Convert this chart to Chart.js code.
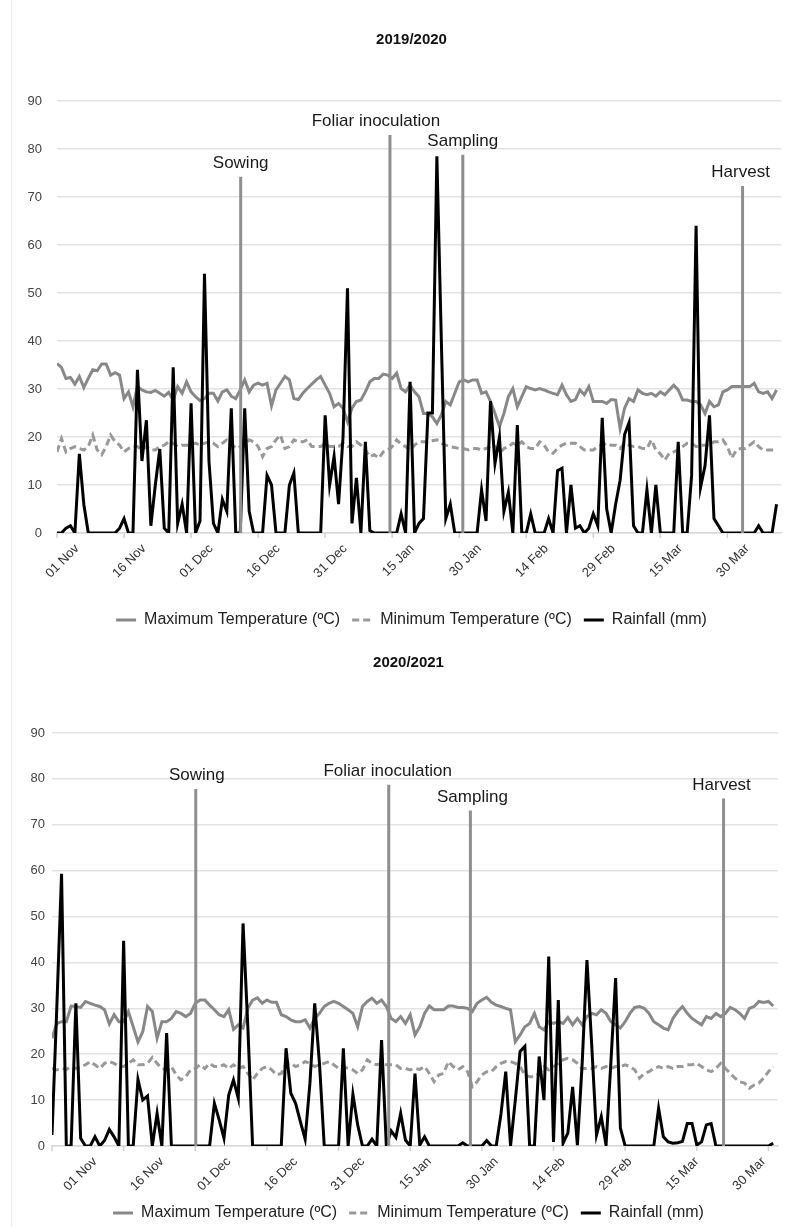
<!DOCTYPE html>
<html>
<head>
<meta charset="utf-8">
<script src="https://cdn.jsdelivr.net/npm/chart.js@4.4.1/dist/chart.umd.min.js"></script>
<style>
  html, body { margin: 0; padding: 0; background: #fff; overflow: hidden; }
  #page { position: relative; width: 786px; height: 1227px; overflow: hidden; }
  #edge { position: absolute; left: 11px; top: 0; width: 1px; height: 1227px; background: #ececec; }
  canvas { position: absolute; left: 0; }
  #season1 { top: 0; }
  #season2 { top: 630px; }
</style>
</head>
<body>
<div id="page">
  <div id="edge"></div>
  <canvas id="season1" width="796" height="640"></canvas>
  <canvas id="season2" width="786" height="602"></canvas>
</div>
<script>
const seriesNames = ["Maximum Temperature (ºC)", "Minimum Temperature (ºC)", "Rainfall (mm)"];
const tickLabels = ["01 Nov", "16 Nov", "01 Dec", "16 Dec", "31 Dec", "15 Jan", "30 Jan", "14 Feb", "29 Feb", "15 Mar", "30 Mar"];
const eventNames = ["Sowing", "Foliar inoculation", "Sampling", "Harvest"];

// 2019/2020 season, one value per day from 01 Nov
const maxTemp1920 = [
  35.3, 34.5, 32.2, 32.4, 31, 32.6, 30.3, 32.2, 34, 33.8, 35.2, 35.2, 32.9, 33.4, 32.9, 28, 29.4, 26.3, 30.5, 29.8,
  29.4, 29.3, 29.7, 29.1, 28.5, 29.3, 27.7, 30.5, 29.1, 31.5, 29.4, 28.4, 27.6, 28, 29.1, 29.1, 27.5, 29.4, 29.8, 28.5,
  28, 29.8, 31.9, 29.4, 30.8, 31.2, 30.8, 31.2, 26.5, 29.8, 31.2, 32.6, 31.9, 28, 27.8, 29.1, 30.1, 31, 31.9, 32.6,
  30.8, 29.1, 26.3, 27, 26, 23.2, 26, 27.4, 27.7, 29.4, 31.5, 32.2, 32.2, 33.1, 32.9, 32.2,
  33.3, 30.1, 29.4, 30.8, 29.4, 28.4, 24.9, 24.9, 24.2, 22.8, 24.6, 27.4, 26.7, 29.1, 31.5, 31.9, 31.5, 31.9, 31.9, 29.1,
  29.4, 27.4, 24.9, 22.2, 24.9, 28.4, 30.1, 26.3, 28.4, 30.5, 30.1, 29.8, 30.1, 29.8, 29.4, 29.1, 28.8, 30.8, 28.8, 27.4,
  27.8, 29.8, 28.8, 30.5, 27.4, 27.4, 27.4, 27, 27.8, 27.7, 21.8, 26, 28, 27.4, 29.8, 29.1, 28.8, 29.1, 28.5, 29.4,
  28.8, 29.8, 30.8, 29.8, 27.7, 27.7, 27.4, 27.4, 26.7, 24.9, 27.4, 26.3, 26.7, 29.4, 29.8, 30.5, 30.5, 30.5, 30.5, 30.5,
  31.2, 29.4, 29.1, 29.4, 28, 29.8
];
const minTemp1920 = [
  16.9, 19.7, 16.9, 17.6, 18, 17.6, 17.3, 18, 20.4, 17.3, 16.3, 18, 20.4, 19, 18.3, 16.9, 17.6, 18, 18, 17.3,
  18, 17.3, 17.3, 18, 18.3, 19, 18.7, 18, 18.3, 18.3, 18.3, 18.7, 18.3, 18.7, 19, 18.7, 18, 18.7, 19.4, 18.7,
  17.6, 18, 18.3, 19.4, 19, 18, 15.9, 17.6, 18, 19.4, 20.4, 17.6, 18, 19.4, 19, 19, 19.4, 18, 18, 18,
  18.7, 18, 18, 18, 18.7, 18, 18, 19, 18.3, 17.3, 15.9, 16.3, 15.6, 16.9, 17.3, 18,
  19.4, 18.5, 18, 17.3, 18.3, 19, 19, 19, 19.2, 19.4, 18.7, 18.3, 18, 17.8, 17.6, 17.6, 17.3, 17.6, 17.6, 17.3,
  17.6, 18, 18, 16.6, 17.6, 18, 18.7, 18.3, 19, 18, 17.6, 17.6, 19, 18.3, 16.9, 16.6, 17.6, 18.3, 18.7, 18.7,
  18.7, 18, 17.3, 17.3, 17.3, 18, 18.3, 18.7, 18.3, 18.3, 17.6, 18.7, 18.3, 18, 18, 17.6, 17.6, 19.4, 17.3, 16.5,
  15.2, 16.6, 16.9, 17.3, 18, 18.7, 18.7, 18, 18.3, 18.3, 18.3, 19, 19, 19.4, 18, 15.6, 17.3, 17.6, 17.6, 18.3,
  19, 18, 17.3, 17.3, 17.3, 17.3
];
const rain1920 = [
  0, 0, 1, 1.5, 0, 16.5, 6, 0, 0, 0, 0, 0, 0, 0, 1, 3, 0, 0, 34, 15,
  23.5, 1.5, 10, 17.5, 1, 0, 34.5, 2, 6, 0, 27, 0, 2.5, 54, 15, 2, 0, 7, 4.5, 26,
  0, 0, 26, 4.5, 0, 0, 0, 12, 10, 0, 0, 0, 10, 12.5, 0, 0, 0, 0, 0, 0,
  24.5, 10, 16, 6, 20, 51, 2, 11.5, 0, 19, 0.5, 0, 0, 0, 0, 0, 0, 4, 0, 31.5,
  0, 2, 3, 25, 25, 78.5, 40, 3, 6, 0, 0, 0, 0, 0, 0, 9, 2.5, 27.5, 14.5, 20,
  4.5, 8.5, 0, 22.5, 0, 0, 4, 0, 0, 0, 3, 0, 13, 13.5, 0, 10, 1, 1.5, 0, 1,
  4, 1.5, 24, 5, 0, 6, 11, 20.5, 23, 1.5, 0, 0, 9, 0, 10, 0, 0, 0, 0, 19,
  0, 0, 12, 64, 9.5, 14, 24.5, 3, 1.5, 0, 0, 0, 0, 0, 0, 0, 0, 1.5, 0, 0,
  0, 6
];
const eventDays1920 = [41.1, 74.5, 90.8, 153.4];
const eventTops1920 = [74.2, 82.9, 78.8, 72.3];
const labelDays1920 = [0, 15, 30, 45, 60, 75, 90, 105, 120, 135, 150];
const tickMarkDays1920 = [0, 15, 30, 45, 60, 75, 90, 105, 120, 135, 150];

// 2020/2021 season
const maxTemp2021 = [
  23.5, 26.7, 27.1, 27.1, 30.5, 30.4, 30.2, 31.5, 31.1, 30.7, 30.4, 29.7, 26.6, 28.6, 27.1, 27.1, 29.3, 26, 22.7, 24.9,
  30.4, 29.3, 23.5, 27.1, 27.1, 27.8, 29.3, 28.9, 28.2, 28.9, 31.1, 31.8, 31.8, 30.7, 29.7, 28.6, 28.2, 29.7, 25.4, 26.4,
  25.7, 30, 31.8, 32.3, 31.1, 31.8, 31.3, 31.3, 28.6, 28.2, 27.5, 27.1, 27.1, 27.5, 25.7, 27.8, 28.9, 30.4, 31.1, 31.5,
  31.1, 30.4, 29.7, 28.9, 26, 30.4, 31.5, 32.2, 31.1, 31.8, 30.4, 27.8, 27.1,
  28.2, 26.7, 28.6, 24.2, 26, 28.9, 30.5, 29.7, 29.7, 29.7, 30.5, 30.5, 30.2, 30.2, 30, 29.3, 31.1, 31.8, 32.4, 31.3,
  30.7, 30.4, 30, 29.7, 22.7, 24.2, 26, 26.7, 28.9, 26, 25.3, 27.1, 26.7, 27.1, 26.7, 28, 26.4, 27.8, 26.4, 28.2,
  28.9, 28.6, 29.7, 28.9, 27.1, 26.4, 25.7, 27.1, 28.9, 30.2, 30.4, 30, 28.9, 27.1, 26.4, 25.7, 25.3, 27.8, 29.3, 30.4,
  28.9, 27.8, 27.1, 26.4, 28.2, 27.8, 28.9, 28.2, 28.9, 30.2, 29.7, 28.9, 27.8, 30, 30.4, 31.5, 31.3, 31.5, 30.5
];
const minTemp2021 = [
  16.9, 16.6, 16.9, 16.7, 17.2, 16.9, 17.3, 17.7, 18.4, 17.7, 16.9, 18, 18.4, 18, 17.3, 17.3, 18, 18.8, 17.7, 17.7,
  18, 19.3, 18, 16.9, 16.6, 17.3, 15.5, 14.4, 15.1, 16.6, 16.9, 17.7, 16.9, 18, 17.3, 17.3, 17.7, 16.9, 17.7, 16.9,
  17.3, 15.8, 14.4, 15.8, 16.9, 17.3, 16.6, 15.5, 15.8, 18, 18, 17.3, 17.7, 18.4, 18, 17.3, 17.7, 18, 18.4, 17.7,
  16.9, 17.3, 16.9, 16.6, 15.8, 16.6, 18.8, 18, 17.7, 18, 17.7, 17.7, 17.7,
  16.9, 16.9, 16.6, 16.9, 16.7, 17.3, 15.8, 14, 15.5, 15.8, 18.4, 17.3, 16.6, 17.3, 16.2, 12.9, 14, 15.5, 16.2, 16.2,
  17.3, 18, 18.4, 18.4, 18, 17.3, 15.5, 15.1, 15.1, 15.8, 17.3, 16.6, 17.3, 18, 18.8, 19.1, 18.8, 18, 16.9, 16.9,
  16.9, 17.3, 16.9, 17.3, 16.9, 17.3, 17.3, 17.7, 17.3, 16.6, 14.8, 15.8, 16.2, 16.9, 17.3, 16.9, 17.3, 16.9, 17.3, 17.3,
  17.7, 17.7, 18, 17.3, 16.6, 16.2, 16.9, 18, 16.9, 15.8, 14.8, 14, 13.7, 12.6, 13.3, 13.7, 14.8, 16.2, 17.3
];
const rain2021 = [
  2.4, 30, 59.3, 0, 0, 31.1, 1.7, 0, 0, 2, 0, 1.2, 3.6, 2, 0, 44.7, 0, 0, 14.5, 10,
  10.9, 0, 7.1, 0, 24.6, 0, 0, 0, 0, 0, 0, 0, 0, 0, 9.3, 5.7, 1.7, 11.1, 14.4, 10.4,
  48.5, 26, 0, 0, 0, 0, 0, 0, 0, 21.3, 11.5, 9.3, 5.3, 1.5, 13.7, 31.1, 18, 0, 0, 0,
  0, 21.3, 0, 11.3, 4.6, 0, 0, 1.5, 0, 23.1, 0, 3.3, 1.9,
  7.1, 1.3, 0, 15.8, 0.2, 2, 0, 0, 0, 0, 0, 0, 0, 0.7, 0, 0, 0, 0, 1.2, 0,
  0, 7, 16.2, 0, 10, 20.6, 21.7, 0, 0, 19.5, 10, 41.3, 0.9, 31.8, 0.6, 2.8, 12.9, 0.2, 18, 40.5,
  22, 2.4, 6.4, 0.2, 18, 36.6, 3.9, 0, 0, 0, 0, 0, 0, 0, 8.2, 2, 0.9, 0.6, 0.7, 1,
  4.9, 4.9, 0.2, 0.9, 4.6, 4.9, 0, 0, 0, 0, 0, 0, 0, 0, 0, 0, 0, 0, 0.6
];
const eventDays2021 = [30.1, 70.5, 87.6, 140.6];
const eventTops2021 = [77.8, 78.7, 73.1, 75.7];
const labelDays2021 = [9, 23, 37, 51, 65, 79, 93, 107, 121, 135, 149];
const tickMarkDays2021 = [0, 15, 30, 45, 60, 75, 90, 105, 120, 135, 150];

const FONT = "'Liberation Sans', Arial, sans-serif";
Chart.defaults.font.family = FONT;
Chart.defaults.color = "#333";

// vertical marker lines for the crop stages, plus the small axis tick marks
const eventLines = {
  id: "eventLines",
  afterDatasetsDraw(chart, args, opts) {
    const { ctx, chartArea, scales: { x, y } } = chart;
    ctx.save();
    ctx.strokeStyle = "#d0d0d0";
    ctx.lineWidth = 1.5;
    opts.marks.forEach((d) => {
      const px = x.getPixelForValue(d);
      ctx.beginPath();
      ctx.moveTo(px, chartArea.bottom);
      ctx.lineTo(px, chartArea.bottom + 5);
      ctx.stroke();
    });
    opts.days.forEach((day, i) => {
      const px = x.getPixelForValue(day);
      const top = y.getPixelForValue(opts.tops[i]);
      ctx.strokeStyle = "#8e8e8e";
      ctx.lineWidth = 3;
      ctx.beginPath();
      ctx.moveTo(px, y.getPixelForValue(0));
      ctx.lineTo(px, top);
      ctx.stroke();
      ctx.fillStyle = "#1a1a1a";
      ctx.font = "17px " + FONT;
      ctx.textAlign = "center";
      ctx.textBaseline = "alphabetic";
      ctx.fillText(eventNames[i], px + (opts.shift[i] || 0), top - 9);
    });
    ctx.restore();
  },
};

function drawSeason(canvasId, s) {
  return new Chart(document.getElementById(canvasId), {
    type: "line",
    data: {
      labels: s.maxTemp.map((_, i) => i),
      datasets: [
        { label: seriesNames[0], data: s.maxTemp, borderColor: "#888", backgroundColor: "transparent", borderWidth: 3, order: 3 },
        // dash 7 / gap 4 keeps the short legend swatch visibly dashed
        { label: seriesNames[1], data: s.minTemp, borderColor: "#999", backgroundColor: "transparent", borderWidth: 3, borderDash: [7, 4], order: 2 },
        { label: seriesNames[2], data: s.rain, borderColor: "#000", backgroundColor: "transparent", borderWidth: 3, order: 1 },
      ],
    },
    options: {
      responsive: false,
      animation: false,
      layout: { padding: { left: s.padLeft, right: 0, top: 0, bottom: s.padBottom } },
      elements: { point: { radius: 0 }, line: { tension: 0 } },
      plugins: {
        title: {
          display: true,
          text: s.title,
          color: "#111",
          font: { size: 15, weight: "bold" },
          padding: { top: s.titleTop, bottom: s.titleBottom },
        },
        legend: {
          position: "bottom",
          labels: {
            usePointStyle: false,
            boxWidth: 20,
            boxHeight: 0,
            color: "#222",
            font: { size: 16 },
            padding: 12,
            sort: (a, b) => a.datasetIndex - b.datasetIndex,
          },
        },
        tooltip: { enabled: false },
        eventLines: { days: s.eventDays, tops: s.eventTops, marks: s.tickMarks, shift: s.labelShift },
      },
      scales: {
        x: {
          type: "linear",
          min: 0,
          max: s.xMax,
          afterBuildTicks: (ax) => { ax.ticks = s.labelDays.map((v) => ({ value: v })); },
          afterFit: (ax) => { ax.height = s.xHeight; },
          grid: { display: false, drawTicks: false },
          border: { display: true, color: "#d9d9d9", width: 1.5 },
          ticks: {
            autoSkip: false,
            minRotation: 45,
            maxRotation: 45,
            labelOffset: s.labelOffset,
            padding: 8,
            color: "#333",
            font: { size: 13 },
            callback: (v, i) => tickLabels[i],
          },
        },
        y: {
          min: 0,
          max: 90,
          afterFit: (ax) => { ax.width = s.yWidth; },
          ticks: { stepSize: 10, padding: s.yPad, color: "#444", font: { size: 13 } },
          grid: { color: "#e3e3e3", lineWidth: 1.5, drawTicks: false },
          border: { display: false },
        },
        // empty right-hand spacer so the title and legend centre like the original
        yr: {
          position: "right",
          min: 0,
          max: 90,
          afterFit: (ax) => { ax.width = s.rightGap; },
          ticks: { display: false },
          grid: { display: false, drawTicks: false },
          border: { display: false },
        },
      },
    },
    plugins: [eventLines],
  });
}

drawSeason("season1", {
  title: "2019/2020",
  maxTemp: maxTemp1920, minTemp: minTemp1920, rain: rain1920,
  eventDays: eventDays1920, eventTops: eventTops1920,
  labelDays: labelDays1920, tickMarks: tickMarkDays1920,
  xMax: 162, labelOffset: 20, labelShift: [0, -14, 0, -2],
  padLeft: 27, rightGap: 15, padBottom: 2, titleTop: 31, titleBottom: 52,
  xHeight: 67, yWidth: 30, yPad: 15,
});

drawSeason("season2", {
  title: "2020/2021",
  maxTemp: maxTemp2021, minTemp: minTemp2021, rain: rain2021,
  eventDays: eventDays2021, eventTops: eventTops2021,
  labelDays: labelDays2021, tickMarks: tickMarkDays2021,
  xMax: 152, labelOffset: 0, labelShift: [1, -1, 2, -2],
  padLeft: 31, rightGap: 8, padBottom: 1, titleTop: 24, titleBottom: 61,
  xHeight: 47, yWidth: 21, yPad: 7,
});
</script>
</body>
</html>
